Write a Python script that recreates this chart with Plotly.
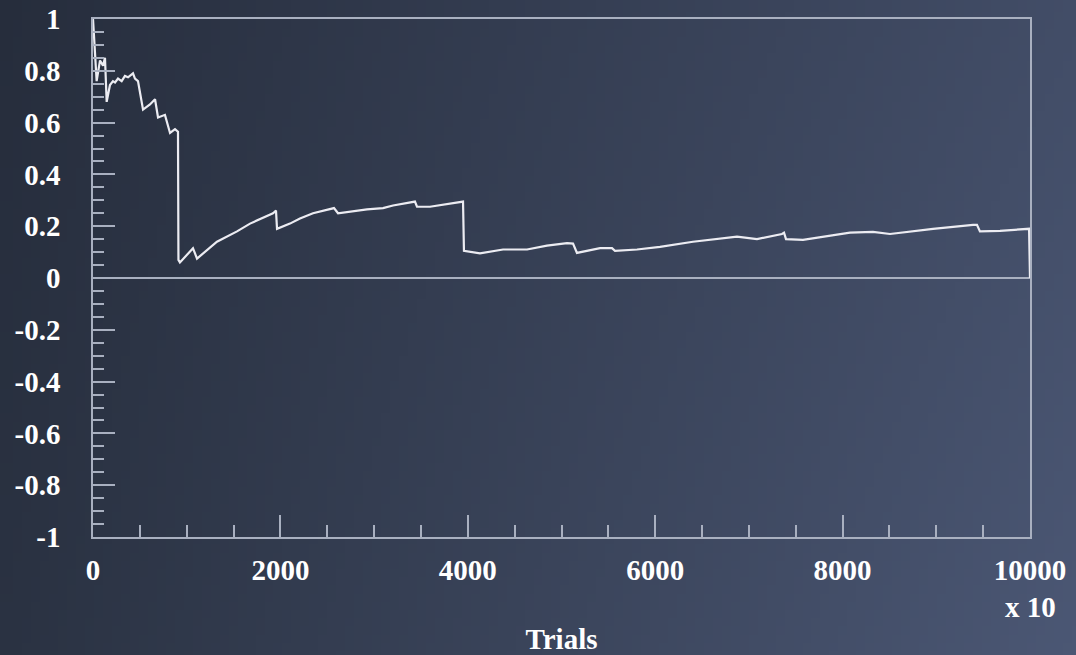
import base64, struct, zlib
import plotly.graph_objects as go

# ---- data ----
trials = [0, 39, 75, 107, 128, 146, 181, 213, 235, 267, 306, 341, 374, 427, 448, 480,
          534, 608, 662, 694, 768, 822, 875, 907, 912, 928, 1067, 1110, 1323, 1537,
          1676, 1921, 1953, 1964, 2102, 2209, 2348, 2529, 2572, 2615, 2711, 2924,
          3095, 3202, 3436, 3458, 3596, 3778, 3949, 3959, 4130, 4376, 4632, 4845,
          5059, 5123, 5165, 5411, 5539, 5571, 5806, 6051, 6403, 6873, 7086, 7353,
          7375, 7396, 7577, 8079, 8324, 8506, 8965, 9392, 9434, 9466, 9680, 9990, 10000]
values = [1.0, 0.76, 0.84, 0.82, 0.85, 0.68, 0.745, 0.76, 0.755, 0.77, 0.76, 0.78,
          0.775, 0.79, 0.77, 0.76, 0.65, 0.67, 0.69, 0.62, 0.63, 0.56, 0.575, 0.565,
          0.07, 0.06, 0.115, 0.075, 0.14, 0.18, 0.21, 0.25, 0.26, 0.19, 0.21, 0.23,
          0.25, 0.265, 0.27, 0.25, 0.255, 0.265, 0.27, 0.28, 0.295, 0.275, 0.275,
          0.285, 0.295, 0.105, 0.095, 0.11, 0.11, 0.125, 0.135, 0.133, 0.097, 0.115,
          0.115, 0.105, 0.11, 0.12, 0.14, 0.16, 0.15, 0.17, 0.175, 0.15, 0.147, 0.175,
          0.178, 0.17, 0.19, 0.205, 0.205, 0.18, 0.182, 0.19, 0.0]

y_tickvals = [1, 0.8, 0.6, 0.4, 0.2, 0, -0.2, -0.4, -0.6, -0.8, -1]
y_ticktext = ["1", "0.8", "0.6", "0.4", "0.2", "0", "-0.2", "-0.4", "-0.6", "-0.8", "-1"]
x_tickvals = [0, 2000, 4000, 6000, 8000, 10000]
x_ticktext = ["0", "2000", "4000", "6000", "8000", "10000"]


# ---- background gradient image ----
def gradient_png(w, h):
    tl, tr = (38, 45, 60), (66, 77, 103)
    bl, br = (42, 50, 66), (75, 87, 116)
    rows = []
    for j in range(h):
        v = j / (h - 1)
        row = bytearray([0])
        for i in range(w):
            u = i / (w - 1)
            for k in range(3):
                top = tl[k] + (tr[k] - tl[k]) * u
                bot = bl[k] + (br[k] - bl[k]) * u
                row.append(int(round(top + (bot - top) * v)))
        rows.append(bytes(row))
    raw = b"".join(rows)

    def chunk(t, d):
        c = struct.pack(">I", len(d)) + t + d
        return c + struct.pack(">I", zlib.crc32(t + d) & 0xffffffff)

    png = b"\x89PNG\r\n\x1a\n"
    png += chunk(b"IHDR", struct.pack(">IIBBBBB", w, h, 8, 2, 0, 0, 0))
    png += chunk(b"IDAT", zlib.compress(raw, 9))
    png += chunk(b"IEND", b"")
    return "data:image/png;base64," + base64.b64encode(png).decode()


W, H = 1076, 655
ML, MR, MT, MB = 93, 46, 19, 118
PW, PH = W - ML - MR, H - MT - MB

frame = "#a9b0c0"
font = dict(family="Liberation Serif", size=29, color="white", weight="bold")

fig = go.Figure()
fig.add_trace(go.Scatter(x=trials, y=values, mode="lines",
                         line=dict(color="#ececf2", width=2.2), showlegend=False,
                         hoverinfo="skip"))

fig.update_layout(
    width=W, height=H,
    margin=dict(l=ML, r=MR, t=MT, b=MB, autoexpand=False),
    paper_bgcolor="#3a4459",
    plot_bgcolor="rgba(0,0,0,0)",
    images=[dict(source=gradient_png(120, 80), xref="paper", yref="paper",
                 x=-ML / PW, y=1 + MT / PH, sizex=W / PW, sizey=H / PH,
                 xanchor="left", yanchor="top", sizing="stretch", layer="below")],
    xaxis=dict(range=[0, 10000], showgrid=False, zeroline=False, automargin=False,
               showline=True, mirror=True, linecolor=frame, linewidth=1.5,
               tickmode="array", tickvals=x_tickvals, ticktext=x_ticktext,
               ticks="inside", ticklen=22, tickwidth=1.5, tickcolor=frame,
               minor=dict(tickmode="linear", tick0=0, dtick=500, ticks="inside",
                          ticklen=12, tickwidth=1.5, tickcolor=frame, showgrid=False),
               tickfont=font, ticklabelstandoff=6,
               title=dict(text="Trials", font=font, standoff=44)),
    yaxis=dict(range=[-1, 1], showgrid=False, automargin=False,
               zeroline=True, zerolinecolor=frame, zerolinewidth=1.5,
               showline=True, mirror=True, linecolor=frame, linewidth=1.5,
               tickmode="array", tickvals=y_tickvals, ticktext=y_ticktext,
               ticks="inside", ticklen=22, tickwidth=1.5, tickcolor=frame,
               minor=dict(tickmode="linear", tick0=-1, dtick=0.05, ticks="inside",
                          ticklen=11, tickwidth=1.5, tickcolor=frame, showgrid=False),
               tickfont=font, ticklabelstandoff=25),
    annotations=[dict(text="x 10", xref="paper", yref="paper", x=1.0, y=-0.135,
                      xanchor="center", yanchor="middle", showarrow=False, font=font)],
)

fig.write_html("out.html", config={"displayModeBar": False},
               post_script="document.body.style.margin='0';"
                           "document.body.style.overflow='hidden';")
